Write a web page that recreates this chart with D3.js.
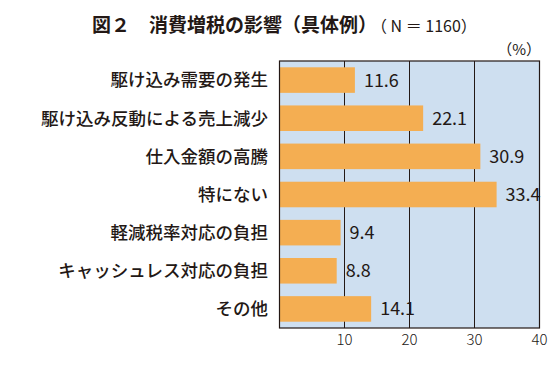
<!DOCTYPE html>
<html>
<meta charset="utf-8">
<script src="https://d3js.org/d3.v7.min.js"></script>
<style>
  body { margin: 0; background: #fff; }
  text { font-family: "Noto Sans CJK JP", "Noto Sans", sans-serif; fill: #231815; }
</style>
<body>
<div id="chart"></div>
<script>
// data
var categories = ["駆け込み需要の発生", "駆け込み反動による売上減少", "仕入金額の高騰", "特にない",
                  "軽減税率対応の負担", "キャッシュレス対応の負担", "その他"];
var values = [11.6, 22.1, 30.9, 33.4, 9.4, 8.8, 14.1];
var ticks = [10, 20, 30, 40];

var width = 560, height = 374;
var margin = {top: 61, right: 20.5, bottom: 46, left: 279.5};

var svg = d3.select("#chart").append("svg")
    .attr("width", width)
    .attr("height", height);

var x = d3.scaleLinear().domain([0, 40]).range([margin.left, width - margin.right]);
var y = d3.scaleBand().domain(categories)
    .range([margin.top, height - margin.bottom])
    .paddingInner(0.33).paddingOuter(0.165);

// title
var title = svg.append("text")
    .attr("x", 92).attr("y", 32)
    .style("font-size", "19px");
title.append("tspan").style("font-weight", "bold").text("図２　消費増税の影響（具体例）");
title.append("tspan").style("font-size", "16px").attr("dx", 2).text("（ N ＝ 1160）");

// unit
svg.append("text")
    .attr("x", 541).attr("y", 55)
    .attr("text-anchor", "end")
    .style("font-size", "15px")
    .text("（%）");

// plot background
svg.append("rect")
    .attr("x", x(0)).attr("y", margin.top)
    .attr("width", x(40) - x(0))
    .attr("height", height - margin.bottom - margin.top)
    .attr("fill", "#cedff0");

// gridlines
svg.append("g").selectAll("line")
  .data(ticks.slice(0, 3))
  .enter().append("line")
    .attr("x1", function(d) { return x(d); })
    .attr("x2", function(d) { return x(d); })
    .attr("y1", margin.top).attr("y2", height - margin.bottom)
    .attr("stroke", "#231815").attr("stroke-width", 1);

// bars
svg.append("g").selectAll("rect")
  .data(values)
  .enter().append("rect")
    .attr("x", x(0))
    .attr("y", function(d, i) { return y(categories[i]); })
    .attr("width", function(d) { return x(d) - x(0); })
    .attr("height", y.bandwidth())
    .attr("fill", "#f4ae52");

// frame
svg.append("rect")
    .attr("x", x(0)).attr("y", margin.top)
    .attr("width", x(40) - x(0))
    .attr("height", height - margin.bottom - margin.top)
    .attr("fill", "none")
    .attr("stroke", "#231815").attr("stroke-width", 1.2);

// value labels
svg.append("g").selectAll("text")
  .data(values)
  .enter().append("text")
    .attr("x", function(d) { return x(d) + 9; })
    .attr("y", function(d, i) { return y(categories[i]) + y.bandwidth() / 2; })
    .attr("dy", "0.36em")
    .style("font-size", "18px")
    .text(function(d) { return d.toFixed(1); });

// category labels
svg.append("g").selectAll("text")
  .data(categories)
  .enter().append("text")
    .attr("x", 268)
    .attr("y", function(d) { return y(d) + y.bandwidth() / 2; })
    .attr("dy", "0.36em")
    .attr("text-anchor", "end")
    .style("font-size", "17.5px")
    .style("font-weight", "500")
    .text(function(d) { return d; });

// x tick labels
svg.append("g").selectAll("text")
  .data(ticks)
  .enter().append("text")
    .attr("x", function(d) { return x(d); })
    .attr("y", 345)
    .attr("text-anchor", "middle")
    .style("font-size", "15px")
    .style("font-weight", "300")
    .text(function(d) { return d; });
</script>
</body>
</html>
